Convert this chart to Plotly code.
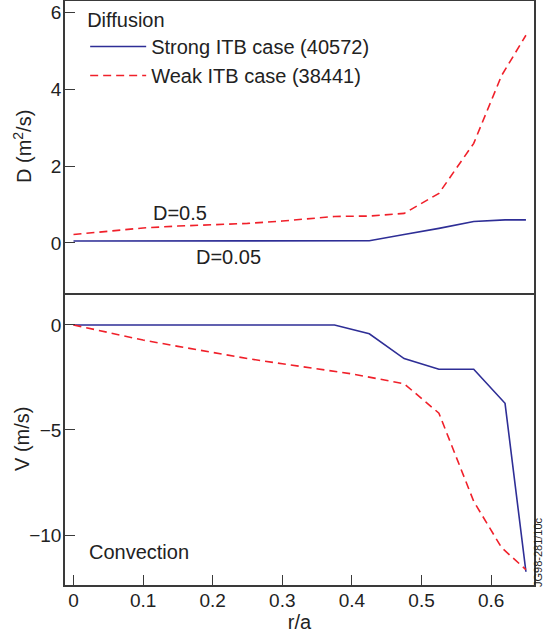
import plotly.graph_objects as go
from plotly.subplots import make_subplots

# ---- data ----
r_strong_D = [0, 0.375, 0.425, 0.475, 0.525, 0.575, 0.62, 0.65]
D_strong = [0.05, 0.05, 0.06, 0.22, 0.38, 0.56, 0.60, 0.60]

r_weak_D = [0, 0.05, 0.1, 0.15, 0.2, 0.25, 0.3, 0.375, 0.425, 0.475, 0.525, 0.575, 0.615, 0.65]
D_weak = [0.22, 0.31, 0.39, 0.44, 0.48, 0.51, 0.57, 0.69, 0.70, 0.77, 1.29, 2.59, 4.35, 5.4]

r_strong_V = [0, 0.375, 0.425, 0.475, 0.525, 0.575, 0.62, 0.65]
V_strong = [0, 0, -0.42, -1.6, -2.11, -2.11, -3.73, -11.75]

r_weak_V = [0, 0.05, 0.1, 0.15, 0.2, 0.25, 0.3, 0.35, 0.4, 0.475, 0.525, 0.575, 0.615, 0.65]
V_weak = [0, -0.37, -0.72, -1.02, -1.32, -1.6, -1.85, -2.1, -2.33, -2.8, -4.2, -8.4, -10.6, -11.65]

x_ticks = [0, 0.1, 0.2, 0.3, 0.4, 0.5, 0.6]
x_tick_labels = ["0", "0.1", "0.2", "0.3", "0.4", "0.5", "0.6"]
D_ticks = [0, 2, 4, 6]
V_ticks = [0, -5, -10]

BLUE = "#2e2e96"
RED = "#f0202a"
AX = "#3a3a3a"
TXT = "#222222"
FONT = "Liberation Sans"
FS = 20
TFS = 19

fig = make_subplots(rows=2, cols=1, shared_xaxes=True, vertical_spacing=0)

fig.add_trace(go.Scatter(x=r_strong_D, y=D_strong, mode="lines", name="Strong ITB case (40572)",
                         line=dict(color=BLUE, width=1.6)), row=1, col=1)
fig.add_trace(go.Scatter(x=r_weak_D, y=D_weak, mode="lines", name="Weak ITB case (38441)",
                         line=dict(color=RED, width=1.6, dash="8px,5px")), row=1, col=1)
fig.add_trace(go.Scatter(x=r_strong_V, y=V_strong, mode="lines", showlegend=False,
                         line=dict(color=BLUE, width=1.6)), row=2, col=1)
fig.add_trace(go.Scatter(x=r_weak_V, y=V_weak, mode="lines", showlegend=False,
                         line=dict(color=RED, width=1.6, dash="8px,5px")), row=2, col=1)

axcommon = dict(showline=True, linecolor=AX, linewidth=1.5, showgrid=False, automargin=False,
                zeroline=False, tickfont=dict(family=FONT, size=TFS, color=TXT))

fig.update_xaxes(range=[-0.0122, 0.6616], **axcommon)
fig.update_xaxes(showticklabels=False, ticks="", mirror=True, row=1, col=1)
fig.update_xaxes(tickvals=x_ticks, ticktext=x_tick_labels, mirror=False,
                 ticks="inside", ticklen=10, tickcolor=AX, tickwidth=1.2, ticklabelstandoff=-3,
                 title=dict(text="r/a", font=dict(family=FONT, size=FS, color=TXT), standoff=3),
                 row=2, col=1)
fig.update_yaxes(**axcommon, mirror=True, ticks="inside", ticklen=10, tickcolor=AX, tickwidth=1.2,
                 ticklabelstandoff=-2)
fig.update_yaxes(range=[-1.30, 6.29], tickvals=D_ticks, domain=[0.5, 1], row=1, col=1)
fig.update_yaxes(range=[-12.38, 1.52], tickvals=V_ticks, domain=[0, 0.5], row=2, col=1)

# y-axis titles
fig.add_annotation(x=0, y=0.75, xref="paper", yref="paper", text="D (m<sup>2</sup>/s)", showarrow=False,
                   textangle=-90, xanchor="center", yanchor="middle", xshift=-43,
                   font=dict(family=FONT, size=FS, color=TXT))
fig.add_annotation(x=0, y=0.25, xref="paper", yref="paper", text="V (m/s)", showarrow=False,
                   textangle=-90, xanchor="center", yanchor="middle", xshift=-43,
                   font=dict(family=FONT, size=FS, color=TXT))

fig.add_annotation(x=0.153, y=0.78, xref="x", yref="y", text="D=0.5", showarrow=False,
                   font=dict(family=FONT, size=FS, color=TXT))
fig.add_annotation(x=0.222, y=-0.36, xref="x", yref="y", text="D=0.05", showarrow=False,
                   font=dict(family=FONT, size=FS, color=TXT))
fig.add_annotation(x=0.02, y=-10.8, xref="x2", yref="y2", text="Convection", showarrow=False,
                   xanchor="left", font=dict(family=FONT, size=FS, color=TXT))
fig.add_annotation(x=1.0, y=0.0, xref="paper", yref="paper", text="JG98-281/10c", showarrow=False,
                   textangle=-90, xanchor="center", yanchor="bottom", xshift=4, yshift=-4,
                   font=dict(family=FONT, size=11, color=TXT))

fig.update_layout(
    width=545, height=635,
    margin=dict(l=65, r=11, t=1, b=50),
    plot_bgcolor="white", paper_bgcolor="white",
    font=dict(family=FONT, size=FS, color=TXT),
    legend=dict(x=0.043, y=1.0, xanchor="left", yanchor="top", bgcolor="rgba(0,0,0,0)",
                title=dict(text="Diffusion", font=dict(family=FONT, size=FS, color=TXT)),
                font=dict(family=FONT, size=FS, color=TXT), itemwidth=56),
)

fig.write_html("out.html", config={"displayModeBar": False},
               post_script="document.body.style.margin='0';document.body.style.overflow='hidden';")
